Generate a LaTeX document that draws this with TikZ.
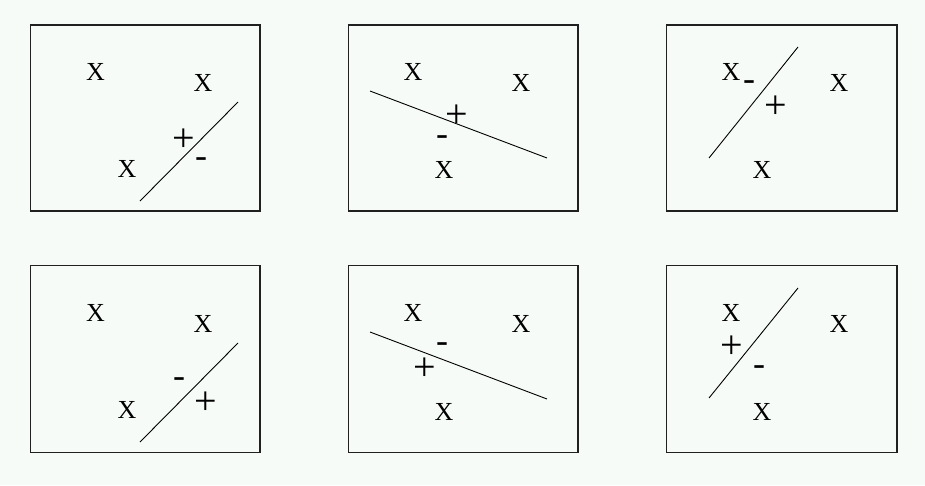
\documentclass[tikz,border=0pt]{standalone}
\usepackage{fontspec}
\setmainfont{Liberation Serif}
\definecolor{bgcol}{HTML}{F7FBF7}
\definecolor{framecol}{HTML}{202020}
\tikzset{
  panel/.style={draw=framecol, line width=1.2pt, fill=bgcol},
  sep/.style={draw=black, line width=0.9pt},
  xmark/.style={inner sep=0pt, font=\fontsize{26}{26}\selectfont},
  plusmark/.style={inner sep=0pt, yshift=-2.5pt, font=\fontsize{40}{40}\selectfont},
  minusmark/.style={inner sep=0pt, yshift=-3.5pt, font=\fontsize{36}{36}\selectfont}
}
\begin{document}
\begin{tikzpicture}[x=1pt,y=-1pt]
\fill[bgcol] (0,0) rectangle (925,485);
\useasboundingbox (0,0) rectangle (925,485);
% ---------- top row ----------
% panel 1
\draw[panel] (30.5,25) rectangle (260,211);
\node[xmark] (a1) at (95.5,72) {X};
\node[xmark] (a2) at (203,83) {X};
\node[xmark] (a3) at (127,169) {X};
\coordinate (la1) at (140,201);
\coordinate (la2) at (238,102);
\draw[sep] (la1) -- (la2);
\node[plusmark] (ap) at (183.5,138) {+};
\node[minusmark] (am) at (201,159) {-};
% panel 2
\draw[panel] (348.5,25) rectangle (578,211);
\node[xmark] (b1) at (413,72) {X};
\node[xmark] (b2) at (521,83) {X};
\node[xmark] (b3) at (444,170) {X};
\coordinate (lb1) at (370,91);
\coordinate (lb2) at (547,158);
\draw[sep] (lb1) -- (lb2);
\node[plusmark] (bp) at (457,114) {+};
\node[minusmark] (bm) at (442,137) {-};
% panel 3
\draw[panel] (666.5,25) rectangle (897,211);
\node[xmark] (c1) at (731,72) {X};
\node[xmark] (c2) at (839,83) {X};
\node[xmark] (c3) at (762,170) {X};
\coordinate (lc1) at (709,158);
\coordinate (lc2) at (798,47);
\draw[sep] (lc1) -- (lc2);
\node[minusmark] (cm) at (749,82) {-};
\node[plusmark] (cp) at (776,105) {+};
% ---------- bottom row ----------
% panel 4
\draw[panel] (30.5,265.5) rectangle (260,452.5);
\node[xmark] (d1) at (95.5,313) {X};
\node[xmark] (d2) at (203,324) {X};
\node[xmark] (d3) at (127,410) {X};
\coordinate (ld1) at (140,442);
\coordinate (ld2) at (238,343);
\draw[sep] (ld1) -- (ld2);
\node[minusmark] (dm) at (179,379) {-};
\node[plusmark] (dp) at (206,401) {+};
% panel 5
\draw[panel] (348.5,265.5) rectangle (578,452.5);
\node[xmark] (e1) at (413,313) {X};
\node[xmark] (e2) at (521,324) {X};
\node[xmark] (e3) at (444,412) {X};
\coordinate (le1) at (370,332);
\coordinate (le2) at (547,399);
\draw[sep] (le1) -- (le2);
\node[minusmark] (em) at (442,344) {-};
\node[plusmark] (ep) at (425,367) {+};
% panel 6
\draw[panel] (666.5,265.5) rectangle (897,452.5);
\node[xmark] (f1) at (731,313) {X};
\node[xmark] (f2) at (839,324) {X};
\node[xmark] (f3) at (762,412) {X};
\coordinate (lf1) at (709,398);
\coordinate (lf2) at (798,288);
\draw[sep] (lf1) -- (lf2);
\node[plusmark] (fp) at (732,345) {+};
\node[minusmark] (fm) at (759,367) {-};
\end{tikzpicture}
\end{document}
